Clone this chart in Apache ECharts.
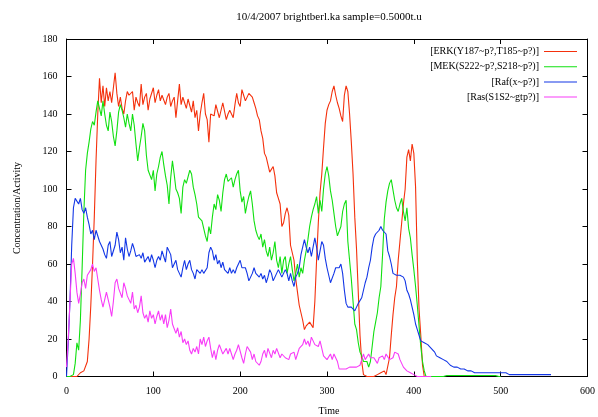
<!DOCTYPE html>
<html>
<head>
<meta charset="utf-8">
<script src="https://cdn.jsdelivr.net/npm/echarts@6/dist/echarts.min.js"></script>
<style>html,body{margin:0;padding:0;background:#fff}#c{width:598px;height:417px}</style>
</head>
<body>
<div id="c"></div>
<script>
const STEP = 2;
const seriesNames = ['[ERK(Y187~p?,T185~p?)]', '[MEK(S222~p?,S218~p?)]', '[Raf(x~p?)]', '[Ras(S1S2~gtp?)]'];
const xTicks = [0, 100, 200, 300, 400, 500, 600];
const yTicks = [0, 20, 40, 60, 80, 100, 120, 140, 160, 180];

const erk = [
0,0,0,0,0,0,0,1,2,1,
3,4,8,20,38,60,85,115,140,159,
146,155,144,154,147,152,146,145,162,151,
144,149,143,140,147,152,150,151,152,142,
149,146,144,156,145,149,151,142,148,149,
154,146,150,153,147,150,149,145,149,151,
144,147,149,138,147,156,145,149,146,143,
148,149,141,147,138,142,131,140,146,151,
140,137,125,140,140,139,145,144,138,137,
146,147,137,140,142,140,138,145,151,146,
144,153,150,147,149,151,150,149,146,143,
139,137,131,127,119,117,116,109,110,112,
107,98,95,92,80,82,87,90,86,70,
66,62,52,45,38,34,30,25,27,28,
29,28,26,40,62,82,98,108,122,135,
142,145,147,152,155,150,146,143,139,136,
150,155,152,140,125,108,85,68,45,22,
8,1,0,0,0,0,1,0,0,1,
0,2,1,3,1,2,10,22,33,42,
48,62,72,82,92,100,117,121,115,124,
119,101,62,36,22,6,0,0,0,0,
0];

const mek = [
0,0,0,0,1,7,18,14,30,58,
88,110,119,125,132,136,134,141,147,143,
139,147,140,134,131,141,136,128,123,131,
141,145,142,138,133,140,135,131,140,134,
124,115,122,128,135,131,118,110,111,105,
110,99,108,112,117,120,113,107,102,92,
106,115,108,100,98,95,87,101,105,103,
104,110,108,101,97,92,85,85,83,79,
75,72,80,76,85,92,89,97,94,88,
98,105,108,104,103,106,101,105,108,110,
99,93,96,87,92,96,99,92,83,78,
75,73,76,69,73,67,64,69,62,66,
72,62,58,64,55,62,64,55,60,64,
57,51,55,60,53,58,55,62,67,73,
80,85,89,92,96,87,94,88,100,108,
112,107,99,94,87,80,75,76,80,88,
92,94,72,62,52,40,28,25,18,13,
11,8,7,8,5,8,16,24,29,34,
42,48,65,84,93,99,103,105,104,94,
90,88,92,95,88,83,90,79,74,65,
57,48,38,27,16,8,3,0,0,0,
0,0,0,0,0,0,0,0,0.5,0.5,
0.5,0.5,0.5,0.5,0.5,0.5,0.5,0.5,0.5,0.5,
0.5,0.5,0.5,0.5,0.5,0.5,0.5,0.5,0.5,0.5,
0.5,0.5,0.5,0.5,0.5,0.5,0.5,0.5,0,0,
0];

const raf = [
0,18,40,70,90,95,96,92,95,89,
87,90,85,81,76,78,73,78,77,72,
73,68,65,63,70,72,64,65,70,77,
73,66,69,62,74,68,64,67,71,68,
64,65,65,63,66,61,62,64,61,65,
62,58,62,64,62,67,64,61,69,69,
65,58,60,62,57,58,53,58,62,57,
60,62,57,55,52,57,57,55,57,55,
56,58,66,69,67,62,65,60,62,58,
61,57,58,55,58,55,57,55,58,60,
62,58,57,58,55,51,50,55,58,55,
56,53,55,52,54,50,53,57,55,51,
53,55,57,55,53,55,57,55,51,55,
51,48,53,55,58,65,69,73,69,66,
69,64,69,74,69,62,67,72,70,63,
58,54,50,51,55,58,59,58,60,55,
46,39,37,37,37,36,35,34,39,40,
42,46,50,53,58,62,69,74,76,77,
78,80,78,78,76,67,64,60,55,55,
54,55,54,55,53,51,46,44,41,37,
33,28,25,22,19,18,18,17,17,16,
15,14,13,11,10,10,9,9,8,8,
7,6,6,5,5,5,5,4,4,4,
4,3,3,3,3,2,2,2,2,2,
2,2,2,2,2,2,2,2,2,2,
2,2,2,2,2,1,1,1,1,1,
1,1,1,1,1,1,1,1,1,1,
1,1,1,1,1,1,1,1,1,1];

const ras = [
5,20,40,60,63,55,45,39,44,50,
52,47,54,55,57,60,56,58,52,46,
41,37,41,45,44,37,32,40,50,52,
47,46,42,50,47,43,44,39,45,36,
38,34,37,43,34,31,33,29,35,31,
33,28,32,35,30,33,28,33,26,30,
36,28,29,23,26,21,24,18,20,17,
19,14,12,15,13,16,12,20,17,21,
16,19,21,15,10,14,9,14,17,18,
12,13,15,12,15,12,9,12,14,17,
16,10,7,12,16,17,13,9,12,8,
9,6,8,12,14,10,15,14,10,14,
12,15,14,10,12,13,10,11,9,12,
11,13,9,12,15,14,17,20,17,19,
16,21,22,17,18,16,19,15,11,12,
9,10,12,9,12,10,8,4,5,4,
4,4,4,5,6,5,4,5,5,6,
9,12,9,10,12,10,9,10,9,7,
10,10,11,9,12,11,9,8,10,13,
14,12,9,7,5,4,3,3,2,2,
1,1,0,0,0,0,0,0,0,0,
0];

const colors = ['#f4300c', '#10e010', '#1236e6', '#f83cf8'];
const FONT = '"Liberation Serif", "DejaVu Serif", serif';

function pairs(arr) { return arr.map((v, i) => [i * STEP, v]); }

const chart = echarts.init(document.getElementById('c'), null, {renderer: 'canvas'});

const axisCommon = {
  type: 'value',
  axisLine: {show: true, onZero: false, lineStyle: {color: '#000', width: 1}},
  axisTick: {show: true, inside: true, length: 5, lineStyle: {color: '#000', width: 1}},
  splitLine: {show: false}
};

const labelStyle = {color: '#000', fontFamily: FONT, fontSize: 10};

chart.setOption({
  animation: false,
  backgroundColor: '#fff',
  color: colors,
  grid: {left: 66.5, right: 6, top: 39, bottom: 40.5, containLabel: false},
  legend: {
    data: seriesNames,
    orient: 'vertical',
    right: 21,
    top: 46.5,
    padding: 0,
    align: 'right',
    itemWidth: 33,
    itemHeight: 14,
    itemGap: 5.2,
    textStyle: labelStyle,
    icon: 'path://M0,6.5L33,6.5L33,7.5L0,7.5Z'
  },
  xAxis: [
    Object.assign({}, axisCommon, {
      min: xTicks[0], max: xTicks[xTicks.length - 1], interval: xTicks[1] - xTicks[0],
      position: 'bottom',
      axisLabel: Object.assign({show: true, margin: 10, showMaxLabel: true}, labelStyle)
    }),
    Object.assign({}, axisCommon, {
      min: xTicks[0], max: xTicks[xTicks.length - 1], interval: xTicks[1] - xTicks[0],
      position: 'top',
      axisLabel: {show: false}
    })
  ],
  yAxis: [
    Object.assign({}, axisCommon, {
      min: yTicks[0], max: yTicks[yTicks.length - 1], interval: yTicks[1] - yTicks[0],
      position: 'left',
      axisLabel: Object.assign({show: true, margin: 9}, labelStyle)
    }),
    Object.assign({}, axisCommon, {
      min: yTicks[0], max: yTicks[yTicks.length - 1], interval: yTicks[1] - yTicks[0],
      position: 'right',
      axisLabel: {show: false}
    })
  ],
  graphic: [
    {type: 'text', style: {text: '10/4/2007 brightberl.ka sample=0.5000t.u', x: 329, y: 17, textAlign: 'center', textVerticalAlign: 'middle', font: '11px ' + FONT, fill: '#000'}},
    {type: 'text', style: {text: 'Time', x: 329, y: 411, textAlign: 'center', textVerticalAlign: 'middle', font: '10px ' + FONT, fill: '#000'}},
    {type: 'text', x: 17.5, y: 208, rotation: Math.PI / 2, style: {text: 'Concentration/Activity', x: 0, y: 0, textAlign: 'center', textVerticalAlign: 'middle', font: '10px ' + FONT, fill: '#000'}}
  ],
  series: [erk, mek, raf, ras].map((arr, k) => ({
    name: seriesNames[k],
    type: 'line',
    xAxisIndex: 0,
    yAxisIndex: 0,
    symbol: 'none',
    showSymbol: false,
    data: pairs(arr),
    lineStyle: {width: 1.1, color: colors[k]},
    itemStyle: {color: colors[k]},
    clip: true
  }))
});
</script>
</body>
</html>
